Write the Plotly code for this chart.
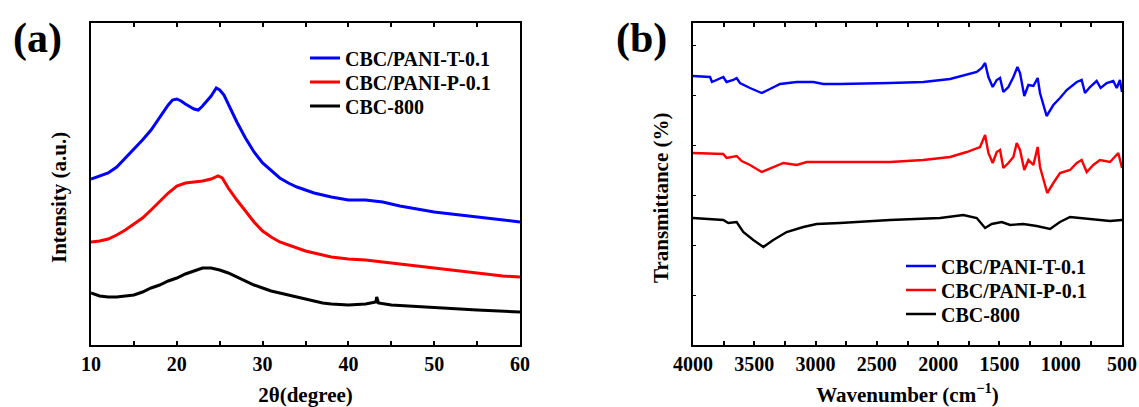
import plotly.graph_objects as go

# ---------------- (a) XRD data ----------------
xrd_t_x = [10, 11, 12, 13, 14, 15, 16, 17, 18, 19, 19.5, 20, 20.5, 21, 22, 22.5, 23, 24, 24.6, 25, 25.5,
           26, 27, 28, 29, 30, 31, 32, 33, 34, 35, 36, 37, 38, 40, 42, 44, 46, 48, 50, 52, 54, 56, 58, 60]
xrd_t_y = [166, 169, 172, 178, 187, 195, 205, 215, 228, 240, 245, 246, 244, 241, 236, 235, 239, 249, 257, 255, 250,
           241, 223, 207, 193, 182, 174, 167, 162, 158, 155, 152, 150, 148, 145, 145, 143, 139, 136, 133, 131, 129, 127, 125, 123]

xrd_p_x = [10, 11, 12, 13, 14, 15, 16, 17, 18, 19, 20, 21, 22, 23, 24, 24.8, 25.3, 26, 27, 28, 29, 30,
           31, 32, 33, 34, 35, 36, 38, 40, 42, 44, 46, 48, 50, 52, 54, 56, 58, 60]
xrd_p_y = [103, 104, 106, 110, 115, 121, 127, 135, 144, 152, 159, 162, 163, 164, 166, 169, 167, 157, 145, 134, 123, 114,
           108, 103, 100, 97, 94, 92, 88, 86, 85, 83, 81, 79, 77, 75, 73, 71, 69, 68]

xrd_c_x = [10, 11, 12, 13, 14, 15, 16, 17, 18, 19, 20, 21, 22, 23, 24, 25, 26, 27, 28, 29, 30,
           31, 32, 33, 34, 35, 36, 37, 38, 40, 42, 43.2, 43.3, 43.5, 45, 47, 50, 55, 60]
xrd_c_y = [52, 49, 48, 48, 49, 50, 53, 57, 60, 64, 67, 71, 74, 77, 77, 75, 72, 68, 64, 60, 57,
           54, 52, 50, 48, 46, 44, 42, 41, 40, 41, 43, 48, 42, 40, 39, 37, 35, 33]

# ---------------- (b) FTIR data ----------------
ir_t_x = [4000, 3861, 3845, 3753, 3726, 3671, 3644, 3617, 3535, 3440, 3372, 3290, 3154, 3018, 2937, 2801, 2393,
          2121, 1903, 1767, 1685, 1644, 1617, 1590, 1555, 1522, 1495, 1468, 1427, 1386, 1353, 1332, 1297,
          1264, 1223, 1188, 1169, 1115, 1060, 1006, 951, 869, 829, 802, 761, 707, 674, 625, 571, 543, 517, 500]
ir_t_y = [269, 268, 263, 268, 263, 265, 267, 262, 257, 252, 256, 261, 263, 263, 261, 261, 262,
          263, 266, 270, 273, 277, 282, 268, 258, 265, 267, 253, 258, 268, 278, 272, 249,
          260, 259, 267, 252, 229, 240, 247, 255, 263, 265, 252, 258, 264, 257, 262, 264, 257, 265, 253]

ir_p_x = [4000, 3753, 3726, 3644, 3603, 3535, 3440, 3345, 3263, 3154, 3072, 2937, 2393, 2121, 1903, 1767,
          1658, 1617, 1590, 1555, 1522, 1495, 1468, 1427, 1386, 1359, 1332, 1297, 1264, 1223, 1188, 1169,
          1110, 1060, 1006, 924, 869, 829, 788, 734, 680, 598, 530, 500]
ir_p_y = [192, 191, 187, 189, 184, 180, 173, 178, 182, 180, 183, 183, 183, 185, 188, 193,
          198, 210, 192, 182, 193, 195, 177, 182, 188, 202, 195, 175, 185, 180, 198, 178,
          152, 162, 172, 175, 182, 185, 173, 180, 185, 183, 192, 177]

ir_c_x = [4000, 3753, 3712, 3644, 3590, 3508, 3426, 3345, 3236, 3100, 2991, 2801, 2393, 1984, 1794, 1685,
          1617, 1563, 1481, 1413, 1305, 1196, 1087, 1006, 924, 843, 707, 598, 500]
ir_c_y = [127, 125, 122, 123, 113, 105, 98, 105, 113, 118, 121, 122, 125, 127, 130, 127,
          117, 121, 123, 120, 121, 119, 116, 123, 128, 127, 126, 124, 125]

names = ["CBC/PANI-T-0.1", "CBC/PANI-P-0.1", "CBC-800"]
colors = ["#0000ff", "#ff0000", "#000000"]

FONT = "Liberation Serif"
W, H = 1139, 407


def px(p):
    return p / W


def py(p):
    return 1 - p / H


# legend row positions (window pixels): one legend per entry so rows can be spaced as in the figure
leg_a_rows = [58, 82, 106]
leg_b_rows = [266, 290, 314]
leg_a_x, leg_b_x = 305, 901
legfont = dict(family=FONT, size=20, color="black", weight="bold")

fig = go.Figure()
for i, (xs, ys, nm, col) in enumerate(zip([xrd_t_x, xrd_p_x, xrd_c_x], [xrd_t_y, xrd_p_y, xrd_c_y], names, colors)):
    fig.add_trace(go.Scatter(x=xs, y=ys, mode="lines", name=nm, line=dict(color=col, width=3),
                             xaxis="x", yaxis="y", legend=f"legend{i + 2}", showlegend=True))
for i, (xs, ys, nm, col) in enumerate(zip([ir_t_x, ir_p_x, ir_c_x], [ir_t_y, ir_p_y, ir_c_y], names, colors)):
    fig.add_trace(go.Scatter(x=xs, y=ys, mode="lines", name=nm, line=dict(color=col, width=2.4),
                             xaxis="x2", yaxis="y2", legend=f"legend{i + 5}", showlegend=True))

xa = [px(91), px(520)]
xb = [px(693), px(1122)]
yd = [py(345), py(23)]

tickfont = dict(family=FONT, size=20, color="black", weight="bold")
titlefont = dict(family=FONT, size=21, color="black", weight="bold")

common_x = dict(showline=True, linecolor="black", linewidth=2, mirror="ticks", showgrid=False,
                zeroline=False, ticks="inside", ticklen=4, tickwidth=1.5, tickcolor="black",
                tickfont=tickfont, automargin=False)

legends = {}
for i in range(6):
    key = f"legend{i + 2}"
    if i < 3:
        lx, ly = leg_a_x, leg_a_rows[i]
    else:
        lx, ly = leg_b_x, leg_b_rows[i - 3]
    legends[key] = dict(x=px(lx), y=py(ly), xanchor="left", yanchor="middle", bgcolor="rgba(0,0,0,0)",
                        font=legfont, tracegroupgap=0, visible=True)

fig.update_layout(
    width=W, height=H, margin=dict(l=0, r=0, t=0, b=0, autoexpand=False),
    plot_bgcolor="white", paper_bgcolor="white", showlegend=True,
    xaxis=dict(domain=xa, anchor="y", range=[10, 60], dtick=10,
               minor=dict(dtick=5, ticks="inside", ticklen=4, tickcolor="black", tickwidth=1.5),
               title=dict(text="2θ(degree)", font=titlefont, standoff=14), **common_x),
    yaxis=dict(domain=yd, anchor="x", range=[0, 322], showline=True, linecolor="black", linewidth=2,
               mirror=True, showgrid=False, zeroline=False, showticklabels=False, ticks="",
               automargin=False),
    xaxis2=dict(domain=xb, anchor="y2", range=[4000, 500], dtick=500,
                minor=dict(dtick=250, ticks="inside", ticklen=4, tickcolor="black", tickwidth=1.5),
                title=dict(text="Wavenumber (cm<sup>−1</sup>)", font=titlefont, standoff=14), **common_x),
    yaxis2=dict(domain=yd, anchor="x2", range=[0, 322], showline=True, linecolor="black", linewidth=2,
                mirror=True, showgrid=False, zeroline=False, showticklabels=False,
                ticks="inside", ticklen=3, tickcolor="black", dtick=50, automargin=False),
    annotations=[
        dict(text="(a)", x=px(37), y=py(39), xref="paper", yref="paper", showarrow=False,
             xanchor="center", yanchor="middle",
             font=dict(family=FONT, size=42, color="black", weight="bold")),
        dict(text="(b)", x=px(641), y=py(38), xref="paper", yref="paper", showarrow=False,
             xanchor="center", yanchor="middle",
             font=dict(family=FONT, size=42, color="black", weight="bold")),
        dict(text="Intensity (a.u.)", x=px(59), y=py(198), xref="paper", yref="paper", showarrow=False,
             xanchor="center", yanchor="middle", textangle=-90, font=titlefont),
        dict(text="Transmittance (%)", x=px(661), y=py(198), xref="paper", yref="paper", showarrow=False,
             xanchor="center", yanchor="middle", textangle=-90, font=titlefont),
    ],
    **legends,
)

# remove the default 8px page margin so the figure sits at the window's top-left corner
fig.write_html("out.html", config={"displayModeBar": False},
               post_script="document.body.style.margin='0';document.body.style.overflow='hidden';")
